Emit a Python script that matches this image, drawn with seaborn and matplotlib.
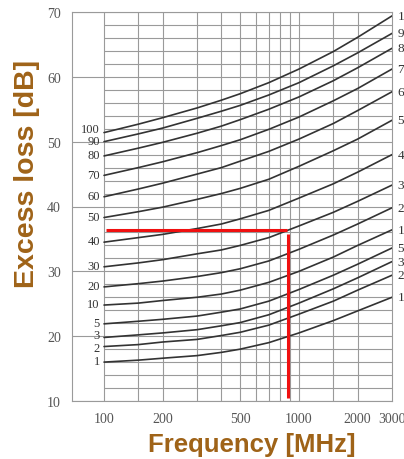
import numpy as np
import pandas as pd
import matplotlib
matplotlib.use("Agg")
import matplotlib.pyplot as plt
import seaborn as sns

# ---- data ----
freqs = [100, 150, 200, 300, 400, 500, 700, 1000, 1500, 2000, 3000]
dist_labels = ["100", "90", "80", "70", "60", "50", "40", "30", "20", "10", "5", "3", "2", "1"]

loss_100 = [51.4, 52.7, 53.7, 55.2, 56.4, 57.4, 59.1, 61.2, 63.9, 66.1, 69.4]
loss_90 = [50.0, 51.2, 52.1, 53.6, 54.7, 55.6, 57.2, 59.1, 61.7, 63.7, 66.7]
loss_80 = [47.8, 49.0, 49.9, 51.3, 52.4, 53.4, 55.0, 56.9, 59.4, 61.4, 64.4]
loss_70 = [44.8, 46.0, 46.9, 48.3, 49.4, 50.3, 51.9, 53.8, 56.3, 58.2, 61.2]
loss_60 = [41.5, 42.7, 43.6, 45.0, 46.0, 47.0, 48.5, 50.4, 52.8, 54.8, 57.7]
loss_50 = [38.3, 39.2, 39.9, 41.1, 42.0, 42.8, 44.2, 46.2, 48.6, 50.4, 53.3]
loss_40 = [34.5, 35.2, 35.7, 36.6, 37.3, 38.1, 39.4, 41.3, 43.5, 45.3, 48.0]
loss_30 = [30.7, 31.3, 31.8, 32.7, 33.3, 34.0, 35.2, 37.0, 39.1, 40.8, 43.3]
loss_20 = [27.6, 28.1, 28.5, 29.2, 29.8, 30.4, 31.6, 33.4, 35.6, 37.3, 39.8]
loss_10 = [24.8, 25.1, 25.5, 26.0, 26.5, 27.1, 28.3, 30.0, 32.2, 34.0, 36.4]
loss_5 = [21.9, 22.3, 22.6, 23.1, 23.7, 24.2, 25.4, 27.2, 29.4, 31.1, 33.6]
loss_3 = [19.8, 20.2, 20.5, 21.0, 21.6, 22.1, 23.3, 25.1, 27.3, 29.0, 31.5]
loss_2 = [18.4, 18.7, 19.1, 19.5, 20.1, 20.6, 21.7, 23.4, 25.4, 27.1, 29.4]
loss_1 = [16.0, 16.3, 16.6, 17.0, 17.5, 18.0, 19.0, 20.5, 22.4, 23.9, 26.0]

# example reading (red guide lines)
guide_freq = 875
guide_loss = 36.4

x_ticks = [100, 200, 500, 1000, 2000, 3000]
y_ticks = [10, 20, 30, 40, 50, 60, 70]

curves = [loss_100, loss_90, loss_80, loss_70, loss_60, loss_50, loss_40,
          loss_30, loss_20, loss_10, loss_5, loss_3, loss_2, loss_1]
df = pd.DataFrame({
    "freq": np.tile(freqs, len(dist_labels)),
    "loss": np.concatenate(curves),
    "dist": np.repeat(dist_labels, len(freqs)),
})

# ---- figure ----
sns.set_style("white")
plt.rcParams["font.family"] = ["DejaVu Sans"]
fig = plt.figure(figsize=(4.04, 4.60), dpi=100)
ax = fig.add_axes([72 / 404, 1 - 402 / 460, 320 / 404, 389 / 460])
ax.set_xscale("log")
ax.set_xlim(68.5, 3000)
ax.set_ylim(10, 70)

grid_c = "#9a9a9a"
vgrid = [100, 150, 200, 300, 400, 500, 600, 700, 800, 900, 1000, 1500, 2000]
for v in vgrid:
    ax.axvline(v, color=grid_c, lw=0.8, zorder=1)
for h in range(12, 70, 2):
    if h % 10:
        ax.hlines(h, 100, 3000, color=grid_c, lw=0.8, zorder=1)
for h in y_ticks:
    ax.axhline(h, color=grid_c, lw=0.8, zorder=1)

sns.lineplot(data=df, x="freq", y="loss", units="dist", estimator=None,
             color="#333333", lw=1.2, ax=ax, zorder=3, legend=False)

# red guide lines
ax.plot([102, guide_freq - 8], [guide_loss, guide_loss], color="#f01010", lw=2.2,
        zorder=4, solid_capstyle="butt")
ax.plot([guide_freq + 5, guide_freq + 5], [35.7, 10.4], color="#f01010", lw=2.2,
        zorder=4, solid_capstyle="butt")

# curve labels
serif = "Liberation Serif"
left_dy = {"100": 2.5, "3": 1.8, "2": -1.0}
for lab, vals in zip(dist_labels, curves):
    dy = left_dy.get(lab, 0.5)
    ax.annotate(lab, xy=(100, vals[0]), xytext=(-3, dy), textcoords="offset points",
                ha="right", va="center", fontsize=9, family=serif,
                color="#333333", annotation_clip=False)
    ax.annotate(lab, xy=(3000, vals[-1]), xytext=(4, 0), textcoords="offset points",
                ha="left", va="center", fontsize=9.5, family=serif,
                color="#333333", annotation_clip=False)

for s in ax.spines.values():
    s.set_color(grid_c)
    s.set_linewidth(0.8)

ax.set_xticks(x_ticks)
ax.set_xticklabels([str(t) for t in x_ticks])
ax.xaxis.set_minor_locator(matplotlib.ticker.NullLocator())
ax.set_yticks(y_ticks)
ax.tick_params(length=0, labelsize=10, colors="#555555", pad=8)
for t in ax.get_xticklabels() + ax.get_yticklabels():
    t.set_family(serif)

brown = "#9f6318"
ax.set_xlabel("Frequency [MHz]", fontsize=18.5, fontweight="bold", color=brown,
              family="Liberation Sans")
ax.xaxis.set_label_coords(0.5625, -0.08)
ax.set_ylabel("Excess loss [dB]", fontsize=20.5, fontweight="bold", color=brown,
              family="Liberation Sans")
ax.yaxis.set_label_coords(-0.10, 0.586)

fig.savefig("out.png", dpi=100)
